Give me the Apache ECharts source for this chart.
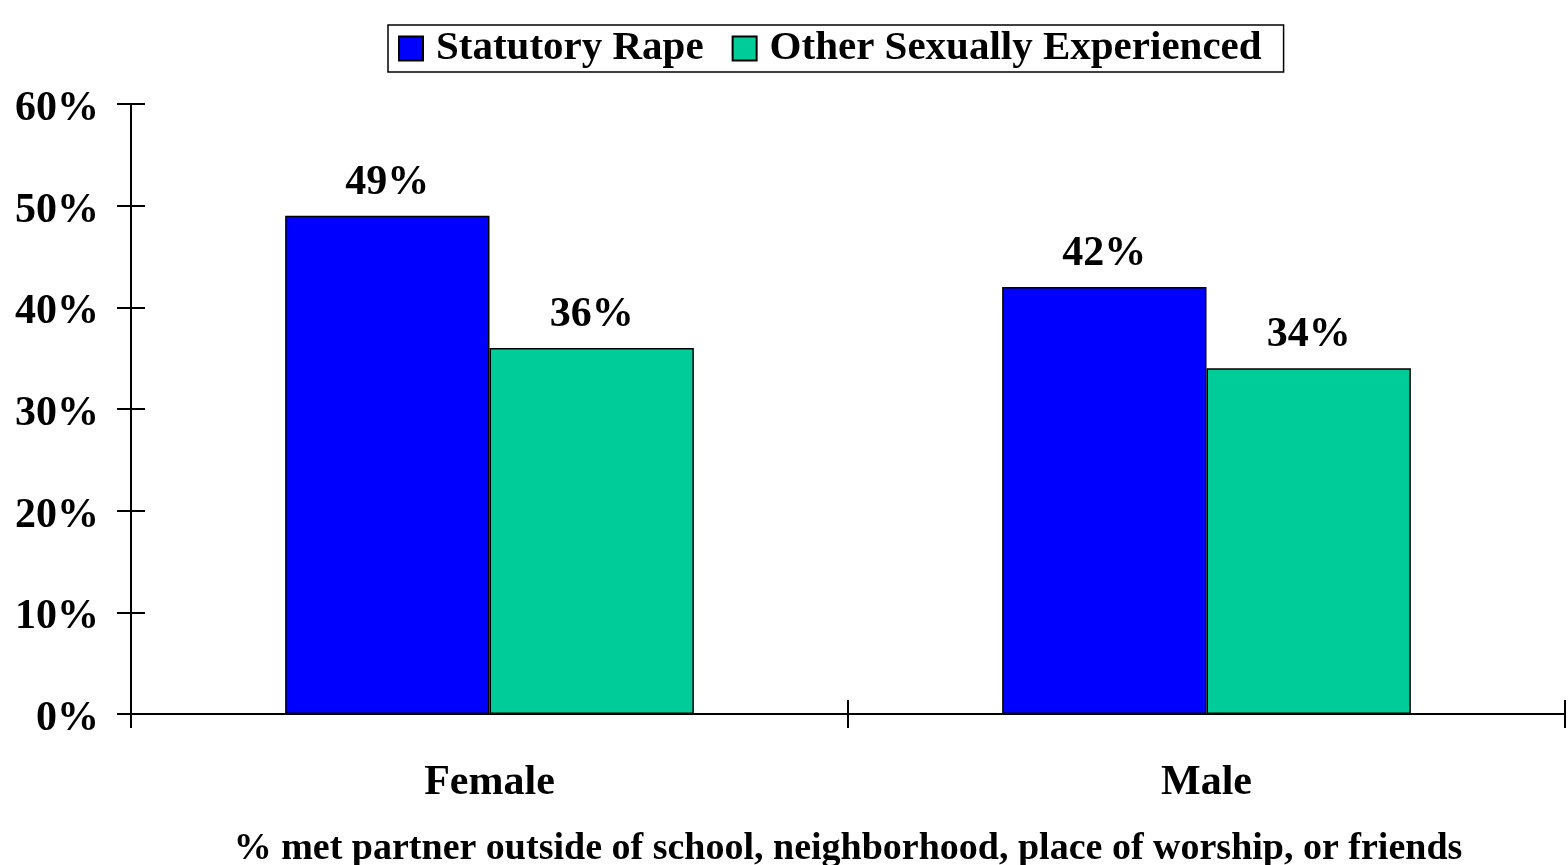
<!DOCTYPE html>
<html>
<head>
<meta charset="utf-8">
<script src="https://cdn.jsdelivr.net/npm/echarts@6/dist/echarts.min.js"></script>
<style>
  html, body { margin: 0; padding: 0; background: #fff; }
  #main { width: 1568px; height: 865px; }
</style>
</head>
<body>
<div id="main"></div>
<script>
// data
const categories = ["Female", "Male"];
const statutoryRape = [49, 42];
const otherExperienced = [36, 34];
const seriesNames = ["Statutory Rape", "Other Sexually Experienced"];
const axisTitle = "% met partner outside of school, neighborhood, place of worship, or friends";

const font = "Liberation Serif";

let myChart = echarts.init(document.getElementById("main"));

// bar labels sit on top of each bar
const barLabel = {
  show: true,
  position: "top",
  distance: 12,
  formatter: "{c}%",
  fontFamily: font,
  fontWeight: "bold",
  fontSize: 42,
  color: "#000"
};

let option = {
  animation: false,
  backgroundColor: "#fff",
  legend: {
    data: seriesNames,
    left: 388,
    top: 25,
    itemWidth: 24,
    itemHeight: 24,
    itemGap: 28,
    padding: [3, 22, 3, 10],
    borderColor: "#000",
    borderWidth: 1.5,
    icon: "rect",
    textStyle: {
      fontFamily: font,
      fontWeight: "bold",
      fontSize: 41,
      color: "#000",
      padding: [0, 0, 0, 8]
    }
  },
  grid: {
    left: 131,
    right: 3,
    top: 104,
    bottom: 151,
    outerBoundsMode: "none"
  },
  xAxis: [
    {
      type: "category",
      data: categories,
      boundaryGap: true,
      axisLine: { lineStyle: { color: "#000", width: 2 } },
      axisTick: { show: true, length: 14, lineStyle: { color: "#000", width: 2 } },
      axisLabel: {
        margin: 48,
        fontFamily: font,
        fontWeight: "bold",
        fontSize: 42,
        color: "#000"
      },
      name: axisTitle,
      nameLocation: "middle",
      nameGap: 116,
      nameTextStyle: {
        fontFamily: font,
        fontWeight: "bold",
        fontSize: 38,
        color: "#000"
      }
    },
    {
      // second axis only draws the ticks that poke up inside the plot
      type: "category",
      data: categories,
      position: "bottom",
      axisLine: { show: false },
      axisTick: { show: true, inside: true, length: 14, lineStyle: { color: "#000", width: 2 } },
      axisLabel: { show: false }
    }
  ],
  yAxis: [
    {
      type: "value",
      min: 0,
      max: 60,
      interval: 10,
      axisLine: { show: true, lineStyle: { color: "#000", width: 2 } },
      axisTick: { show: true, length: 14, lineStyle: { color: "#000", width: 2 } },
      splitLine: { show: false },
      axisLabel: {
        formatter: "{t|{value}%}",
        margin: 32,
        rich: {
          t: {
            fontFamily: font,
            fontWeight: "bold",
            fontSize: 42,
            color: "#000",
            padding: [10, 0, 0, 0]
          }
        }
      }
    },
    {
      type: "value",
      min: 0,
      max: 60,
      interval: 10,
      position: "left",
      axisLine: { show: false },
      axisTick: { show: true, inside: true, length: 14, lineStyle: { color: "#000", width: 2 } },
      splitLine: { show: false },
      axisLabel: { show: false }
    }
  ],
  series: [
    {
      name: seriesNames[0],
      type: "bar",
      data: statutoryRape,
      barGap: "0%",
      barCategoryGap: "43%",
      itemStyle: { color: "#0000ff", borderColor: "#000", borderWidth: 1.5 },
      label: barLabel
    },
    {
      name: seriesNames[1],
      type: "bar",
      data: otherExperienced,
      itemStyle: { color: "#00cc99", borderColor: "#000", borderWidth: 1.5 },
      label: barLabel
    }
  ]
};

myChart.setOption(option);
</script>
</body>
</html>
